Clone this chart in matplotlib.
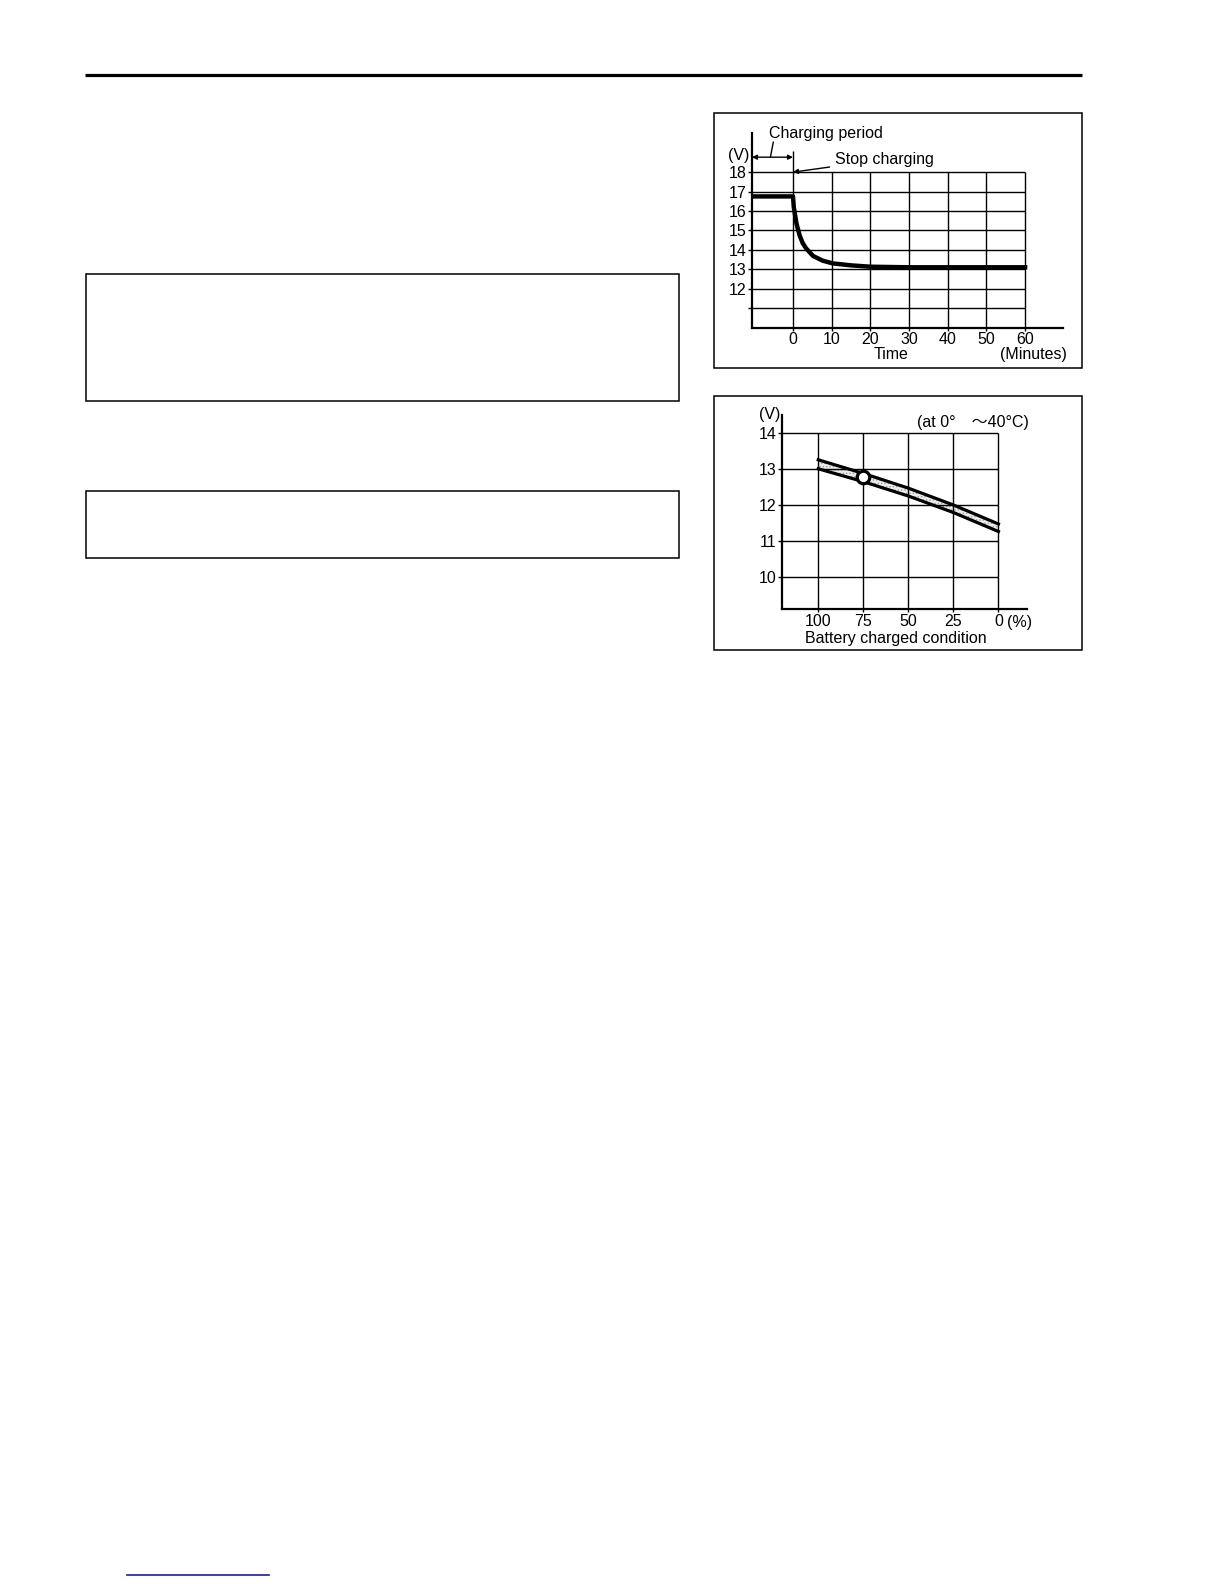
import numpy as np
import matplotlib
matplotlib.use("Agg")
import matplotlib.pyplot as plt
from matplotlib.patches import Rectangle

plt.rcParams['font.family'] = ['Liberation Sans', 'Noto Sans CJK JP', 'DejaVu Sans']
plt.rcParams['font.size'] = 11.5
plt.rcParams['hatch.linewidth'] = 0.6

# chart 1: voltage after stopping the charge
time_min = [-10.6, 0, 0.2, 0.9, 1.7, 2.5, 3.4, 5.2, 7.7, 10.3, 15, 20, 30, 60]
volts_after = [16.75, 16.75, 16.2, 15.35, 14.75, 14.35, 14.07, 13.68, 13.44, 13.3, 13.2, 13.13, 13.1, 13.1]
time_ticks = [0, 10, 20, 30, 40, 50, 60]
volt_ticks1 = [11, 12, 13, 14, 15, 16, 17, 18]
volt_labels1 = ['', '12', '13', '14', '15', '16', '17', '18']

# chart 2: open voltage vs charged condition
charge_pct = [100, 75, 50, 25, 0]
volts_upper = [13.26, 12.88, 12.47, 12.0, 11.47]
volts_lower = [13.01, 12.65, 12.25, 11.79, 11.26]
marker_pct = [75]
marker_volt = [12.77]
volt_ticks2 = [10, 11, 12, 13, 14]

W, H = 1224, 1584
fig = plt.figure(figsize=(W / 100, H / 100), dpi=100)

page = fig.add_axes([0, 0, 1, 1])
page.set_xlim(0, W)
page.set_ylim(H, 0)
page.axis('off')

# page decorations
page.plot([85, 1082], [75, 75], color='black', lw=2.3, solid_capstyle='butt')
for x0, y0, w, h in [(86, 274, 593, 127), (86, 491, 593, 67),
                     (714, 113, 368, 255), (714, 396, 368, 254)]:
    page.add_patch(Rectangle((x0, y0), w, h, fill=False, lw=1.1, ec='black'))
page.plot([127, 269], [1575, 1575], color='#1c1c9c', lw=1.2)


def px_axes(x0, y0, x1, y1):
    a = fig.add_axes([x0 / W, 1 - y1 / H, (x1 - x0) / W, (y1 - y0) / H])
    a.set_facecolor('none')
    for s in ['top', 'right']:
        a.spines[s].set_visible(False)
    for s in ['left', 'bottom']:
        a.spines[s].set_linewidth(1.6)
    return a


# ---- chart 1 ----
ax1 = px_axes(752, 133.3, 1063, 327.5)
ax1.set_xlim(-10.6, 69.8)
ax1.set_ylim(10, 20)
ax1.hlines(volt_ticks1, -10.6, 60, color='black', lw=1.0)
ax1.vlines(time_ticks, 10, 18, color='black', lw=1.0)
ax1.vlines(0, 18, 19.1, color='black', lw=1.0)
ax1.plot(time_min, volts_after, color='black', lw=3.2, solid_joinstyle='round')
ax1.set_yticks(volt_ticks1)
ax1.set_yticklabels(volt_labels1)
ax1.set_xticks(time_ticks)
ax1.tick_params(axis='y', length=3, width=1.0, pad=1.0)
ax1.tick_params(axis='x', length=2, width=1.0, pad=1.5)

ax1.annotate('', xy=(-10.6, 18.77), xytext=(0, 18.77),
             arrowprops=dict(arrowstyle='<|-|>', lw=1.0, color='black',
                             mutation_scale=7, shrinkA=0, shrinkB=0))
ax1.plot([-5.1, -5.8], [19.54, 18.81], color='black', lw=1.0, clip_on=False)
ax1.text(-6.3, 20.0, 'Charging period', ha='left', va='center', clip_on=False)
ax1.annotate('Stop charging', xy=(0, 18.0), xytext=(10.9, 18.66),
             ha='left', va='center',
             arrowprops=dict(arrowstyle='-|>', lw=1.0, color='black',
                             mutation_scale=7, shrinkA=2, shrinkB=0))
ax1.text(-11.3, 18.86, '(V)', ha='right', va='center', clip_on=False)
ax1.text(25.3, 8.59, 'Time', ha='center', va='center', clip_on=False)
ax1.text(70.9, 8.59, '(Minutes)', ha='right', va='center', clip_on=False)

# ---- chart 2 ----
ax2 = px_axes(781.7, 415, 1026.7, 609.3)
ax2.set_xlim(120.3, -15.7)
ax2.set_ylim(9.09, 14.51)
ax2.hlines(volt_ticks2, 120.3, 0, color='black', lw=1.0)
ax2.vlines(charge_pct, 9.09, 14, color='black', lw=1.0)
ax2.fill_between(charge_pct, volts_lower, volts_upper, facecolor='#ececec',
                 edgecolor='#9a9a9a', hatch='.....', lw=0)
ax2.plot(charge_pct, volts_upper, color='black', lw=2.3)
ax2.plot(charge_pct, volts_lower, color='black', lw=2.3)
ax2.plot(marker_pct, marker_volt, 'o', ms=9, mfc='white', mec='black', mew=2.3)
ax2.set_yticks(volt_ticks2)
ax2.set_xticks(charge_pct)
ax2.tick_params(axis='y', length=3, width=1.0, pad=1.0)
ax2.tick_params(axis='x', length=2, width=1.0, pad=1.5)

ax2.text(121.2, 14.51, '(V)', ha='right', va='center', clip_on=False)
ax2.text(45.1, 14.29, '(at 0°\u2003～40°C)', ha='left', va='center')
ax2.text(-4.9, 8.72, '(%)', ha='left', va='center', clip_on=False)
ax2.text(57.0, 8.27, 'Battery charged condition', ha='center', va='center',
         clip_on=False)

fig.savefig('out.png', dpi=100)
